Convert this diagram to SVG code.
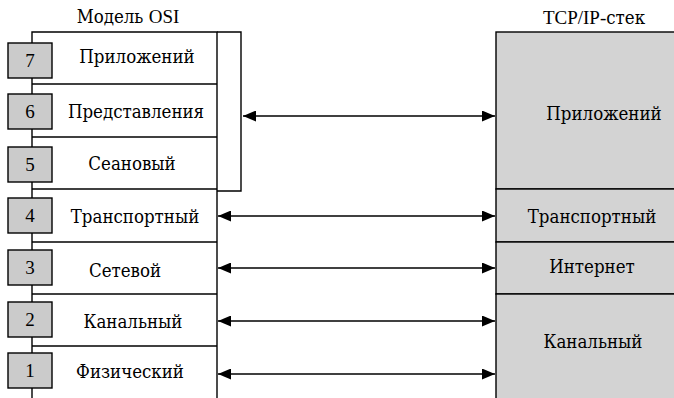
<svg xmlns="http://www.w3.org/2000/svg" width="674" height="398" viewBox="0 0 674 398">
<defs>
<style>
text{font-family:"DejaVu Serif Condensed","DejaVu Serif",serif;font-size:18.5px;fill:#000;text-anchor:middle}
.n,.lat{font-family:"Liberation Serif","Times New Roman",serif;font-size:19px}
.ln{stroke:#000;stroke-width:1.4;fill:none}
.num{fill:#cbcbcb;stroke:#000;stroke-width:1.4}
.tcp{fill:#d3d3d3;stroke:#000;stroke-width:1.4}
.ar{stroke:#000;stroke-width:1.4;fill:none;marker-start:url(#ah);marker-end:url(#ah)}
</style>
<marker id="ah" viewBox="0 0 13 11" refX="13" refY="5.5" markerWidth="13" markerHeight="11" markerUnits="userSpaceOnUse" orient="auto-start-reverse">
<path d="M0,0 L13,5.5 L0,11 Z" fill="#000"/>
</marker>
</defs>
<rect width="674" height="398" fill="#fff"/>
<text x="128" y="23">Модель <tspan class="lat">OSI</tspan></text>
<text x="594" y="24"><tspan class="lat">TCP/IP-</tspan>стек</text>
<g id="osi-frame">
<path class="ln" d="M32,398 V32 H217 V398"/>
<path class="ln" d="M217,32 H241 V191 H217"/>
</g>
<g id="osi7"><path class="ln" d="M32,84 H217"/><rect class="num" x="8" y="43" width="44" height="35"/><text class="n" x="30" y="67">7</text><text x="137" y="63">Приложений</text></g>
<g id="osi6"><path class="ln" d="M32,137 H217"/><rect class="num" x="8" y="94" width="44" height="35"/><text class="n" x="30" y="118">6</text><text x="136" y="118">Представления</text></g>
<g id="osi5"><path class="ln" d="M32,189 H217"/><rect class="num" x="8" y="147" width="44" height="35"/><text class="n" x="30" y="171">5</text><text x="132" y="170">Сеановый</text></g>
<g id="osi4"><path class="ln" d="M32,242 H217"/><rect class="num" x="8" y="198" width="44" height="35"/><text class="n" x="30" y="222">4</text><text x="135" y="223">Транспортный</text></g>
<g id="osi3"><path class="ln" d="M32,294 H217"/><rect class="num" x="8" y="250" width="44" height="35"/><text class="n" x="30" y="274">3</text><text x="125" y="277">Сетевой</text></g>
<g id="osi2"><path class="ln" d="M32,346 H217"/><rect class="num" x="8" y="302" width="44" height="35"/><text class="n" x="30" y="326">2</text><text x="133" y="328">Канальный</text></g>
<g id="osi1"><rect class="num" x="8" y="353" width="44" height="35"/><text class="n" x="30" y="377">1</text><text x="130" y="378">Физический</text></g>
<g id="tcp-app"><rect class="tcp" x="496" y="32" width="190" height="157"/><text x="604" y="120">Приложений</text></g>
<g id="tcp-transport"><rect class="tcp" x="496" y="189" width="190" height="53"/><text x="592" y="223">Транспортный</text></g>
<g id="tcp-internet"><rect class="tcp" x="496" y="242" width="190" height="52"/><text x="592" y="273">Интернет</text></g>
<g id="tcp-link"><rect class="tcp" x="496" y="294" width="190" height="110"/><text x="593" y="348">Канальный</text></g>
<g id="connectors">
<path class="ar" d="M243,116 H495"/>
<path class="ar" d="M218,216 H495"/>
<path class="ar" d="M218,268 H495"/>
<path class="ar" d="M218,321 H495"/>
<path class="ar" d="M218,374 H495"/>
</g>
</svg>
